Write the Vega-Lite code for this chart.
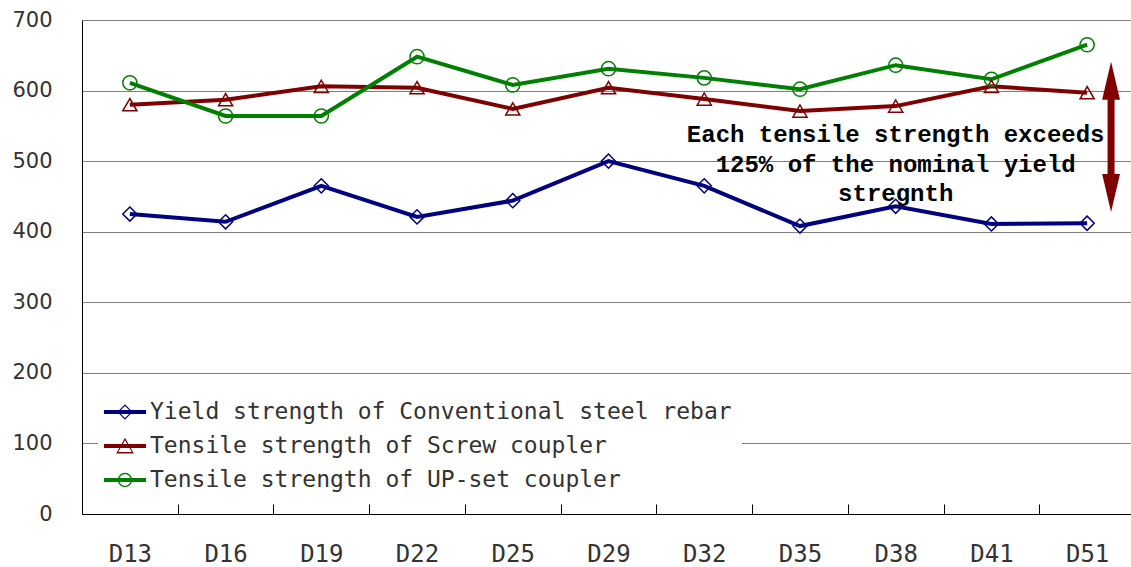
{
  "$schema": "https://vega.github.io/schema/vega-lite/v6.json",
  "width": 1053,
  "height": 494,
  "autosize": {"type": "none"},
  "padding": {"left": 82, "top": 20, "right": 0, "bottom": 53},
  "background": "white",
  "config": {"view": {"stroke": null}},
  "resolve": {"scale": {"shape": "independent"}},
  "datasets": {
    "main": [
      {"size": "D13", "series": "Yield strength of Conventional steel rebar", "value": 425},
      {"size": "D16", "series": "Yield strength of Conventional steel rebar", "value": 414},
      {"size": "D19", "series": "Yield strength of Conventional steel rebar", "value": 465},
      {"size": "D22", "series": "Yield strength of Conventional steel rebar", "value": 421},
      {"size": "D25", "series": "Yield strength of Conventional steel rebar", "value": 444},
      {"size": "D29", "series": "Yield strength of Conventional steel rebar", "value": 500},
      {"size": "D32", "series": "Yield strength of Conventional steel rebar", "value": 465},
      {"size": "D35", "series": "Yield strength of Conventional steel rebar", "value": 408},
      {"size": "D38", "series": "Yield strength of Conventional steel rebar", "value": 436},
      {"size": "D41", "series": "Yield strength of Conventional steel rebar", "value": 411},
      {"size": "D51", "series": "Yield strength of Conventional steel rebar", "value": 412},
      {"size": "D13", "series": "Tensile strength of Screw coupler", "value": 580},
      {"size": "D16", "series": "Tensile strength of Screw coupler", "value": 587},
      {"size": "D19", "series": "Tensile strength of Screw coupler", "value": 606},
      {"size": "D22", "series": "Tensile strength of Screw coupler", "value": 604},
      {"size": "D25", "series": "Tensile strength of Screw coupler", "value": 574},
      {"size": "D29", "series": "Tensile strength of Screw coupler", "value": 604},
      {"size": "D32", "series": "Tensile strength of Screw coupler", "value": 588},
      {"size": "D35", "series": "Tensile strength of Screw coupler", "value": 571},
      {"size": "D38", "series": "Tensile strength of Screw coupler", "value": 578},
      {"size": "D41", "series": "Tensile strength of Screw coupler", "value": 606},
      {"size": "D51", "series": "Tensile strength of Screw coupler", "value": 597},
      {"size": "D13", "series": "Tensile strength of UP-set coupler", "value": 611},
      {"size": "D16", "series": "Tensile strength of UP-set coupler", "value": 564},
      {"size": "D19", "series": "Tensile strength of UP-set coupler", "value": 564},
      {"size": "D22", "series": "Tensile strength of UP-set coupler", "value": 648},
      {"size": "D25", "series": "Tensile strength of UP-set coupler", "value": 608},
      {"size": "D29", "series": "Tensile strength of UP-set coupler", "value": 631},
      {"size": "D32", "series": "Tensile strength of UP-set coupler", "value": 618},
      {"size": "D35", "series": "Tensile strength of UP-set coupler", "value": 602},
      {"size": "D38", "series": "Tensile strength of UP-set coupler", "value": 636},
      {"size": "D41", "series": "Tensile strength of UP-set coupler", "value": 616},
      {"size": "D51", "series": "Tensile strength of UP-set coupler", "value": 665}
    ],
    "note": [
      {"size": "D38", "value": 537, "label": "Each tensile strength exceeds\n125% of the nominal yield\nstregnth"}
    ],
    "arrow": [
      {"size": "D51", "from": 455, "to": 614}
    ],
    "heads": [
      {"size": "D51", "value": 614, "dir": "up"},
      {"size": "D51", "value": 455, "dir": "down"}
    ]
  },
  "layer": [
    {
      "data": {"name": "main"},
      "mark": {"type": "line", "strokeWidth": 4},
      "encoding": {
        "x": {
          "field": "size", "type": "nominal", "bandPosition": 0.5,
          "sort": ["D13","D16","D19","D22","D25","D29","D32","D35","D38","D41","D51"],
          "scale": {"type": "band", "paddingInner": 0, "paddingOuter": 0},
          "axis": {
            "title": null, "labelAngle": 0, "grid": false,
            "domainColor": "#000", "tickColor": "#000", "tickBand": "extent",
            "tickSize": -10, "labelPadding": 38,
            "labelFont": "DejaVu Sans Mono", "labelFontSize": 24, "labelColor": "#333"
          }
        },
        "y": {
          "field": "value", "type": "quantitative",
          "scale": {"domain": [0, 700], "nice": false},
          "axis": {
            "title": null, "values": [0,100,200,300,400,500,600,700],
            "ticks": false, "domainColor": "#000", "gridColor": "#808080", "gridOpacity": 1,
            "labelPadding": 30, "labelFont": "DejaVu Sans", "labelFontSize": 21, "labelColor": "#333"
          }
        },
        "color": {
          "field": "series", "type": "nominal",
          "scale": {
            "domain": ["Yield strength of Conventional steel rebar", "Tensile strength of Screw coupler", "Tensile strength of UP-set coupler"],
            "range": ["#000080", "#800000", "#008000"]
          },
          "legend": {
            "title": null, "orient": "none", "legendX": 16, "legendY": 365,
            "fillColor": "white", "padding": 10, "rowPadding": 5,
            "symbolSize": 1156, "labelOffset": 8, "labelLimit": 0,
            "labelFont": "DejaVu Sans Mono", "labelFontSize": 23, "labelColor": "#333",
            "encode": {
              "symbols": {
                "update": {
                  "shape": {"signal": "['M-1.24,-0.12H1.24V0.12H-1.24ZM0,-0.45L0.45,0L0,0.45L-0.45,0ZM0,-0.36L-0.36,0L0,0.36L0.36,0Z','M-1.24,-0.12H1.24V0.12H-1.24ZM0,-0.48L0.52,0.44L-0.52,0.44ZM0,-0.34L-0.4,0.36L0.4,0.36Z','M-1.24,-0.12H1.24V0.12H-1.24ZM-0.42,0A0.42,0.42 0 1,1 0.42,0A0.42,0.42 0 1,1 -0.42,0ZM-0.34,0A0.34,0.34 0 1,0 0.34,0A0.34,0.34 0 1,0 -0.34,0Z'][datum.index]"},
                  "fill": {"signal": "scale('color', datum.value)"},
                  "fillOpacity": {"value": 1},
                  "strokeWidth": {"value": 0},
                  "opacity": {"value": 1}
                }
              }
            }
          }
        }
      }
    },
    {
      "data": {"name": "main"},
      "mark": {"type": "point", "filled": false, "strokeWidth": 1.5, "size": 200, "opacity": 1},
      "encoding": {
        "x": {"field": "size", "type": "nominal", "bandPosition": 0.5, "sort": ["D13","D16","D19","D22","D25","D29","D32","D35","D38","D41","D51"]},
        "y": {"field": "value", "type": "quantitative"},
        "stroke": {
          "field": "series", "type": "nominal",
          "scale": {
            "domain": ["Yield strength of Conventional steel rebar", "Tensile strength of Screw coupler", "Tensile strength of UP-set coupler"],
            "range": ["#000080", "#800000", "#008000"]
          },
          "legend": null
        },
        "shape": {
          "field": "series", "type": "nominal",
          "scale": {
            "domain": ["Yield strength of Conventional steel rebar", "Tensile strength of Screw coupler", "Tensile strength of UP-set coupler"],
            "range": ["diamond", "triangle-up", "circle"]
          },
          "legend": null
        }
      }
    },
    {
      "data": {"name": "arrow"},
      "mark": {"type": "rule", "strokeWidth": 7, "color": "#800000"},
      "encoding": {
        "x": {"field": "size", "type": "nominal", "bandPosition": 0.75},
        "y": {"field": "from", "type": "quantitative"},
        "y2": {"field": "to"}
      }
    },
    {
      "data": {"name": "heads"},
      "mark": {"type": "point", "filled": true, "color": "#800000", "size": 1444, "opacity": 1},
      "encoding": {
        "x": {"field": "size", "type": "nominal", "bandPosition": 0.75},
        "y": {"field": "value", "type": "quantitative"},
        "shape": {
          "field": "dir", "type": "nominal",
          "scale": {"domain": ["up", "down"], "range": ["M0,-1L0.47,1H-0.47Z", "M0,1L0.47,-1H-0.47Z"]},
          "legend": null
        }
      }
    },
    {
      "data": {"name": "note"},
      "mark": {
        "type": "text", "font": "Liberation Mono", "fontWeight": "bold", "fontSize": 24,
        "lineBreak": "\n", "lineHeight": 29.5, "align": "center", "baseline": "middle", "color": "#000"
      },
      "encoding": {
        "x": {"field": "size", "type": "nominal", "bandPosition": 0.5},
        "y": {"field": "value", "type": "quantitative"},
        "text": {"field": "label"}
      }
    }
  ]
}
